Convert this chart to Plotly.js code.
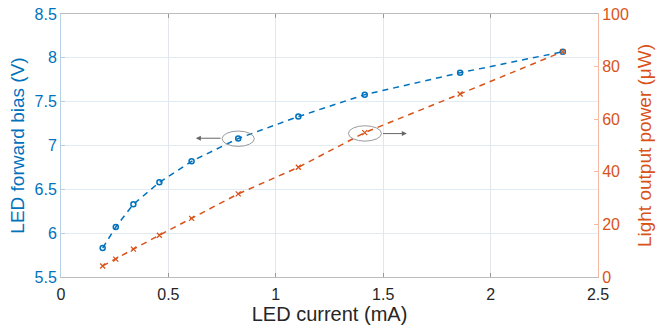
<!DOCTYPE html>
<html><head><meta charset="utf-8">
<script src="https://cdn.plot.ly/plotly-3.0.1.min.js"></script>
<style>html,body{margin:0;padding:0;background:#fff}#chart{width:660px;height:330px}</style>
</head><body><div id="chart"></div>
<script>
const current = [0.194, 0.255, 0.337, 0.458, 0.608, 0.825, 1.105, 1.414, 1.858, 2.336];
const forwardBias = [5.83, 6.07, 6.33, 6.58, 6.82, 7.08, 7.33, 7.58, 7.83, 8.07];
const outputPower = [4.2, 6.8, 10.6, 15.9, 22.3, 31.6, 41.7, 54.9, 69.6, 85.7];
const xTicks = [0, 0.5, 1, 1.5, 2, 2.5];
const xTickText = ['0', '0.5', '1', '1.5', '2', '2.5'];
const yTicks = [5.5, 6, 6.5, 7, 7.5, 8, 8.5];
const yTickText = ['5.5', '6', '6.5', '7', '7.5', '8', '8.5'];
const y2Ticks = [0, 20, 40, 60, 80, 100];

const BLUE = '#0072BD', ORANGE = '#D95319';
const FONT = 'Liberation Sans, Arial, sans-serif';

const traces = [
  {x: current, y: forwardBias, type: 'scatter', mode: 'lines+markers', yaxis: 'y',
   line: {color: BLUE, width: 1.5, dash: '6px,5px'},
   marker: {symbol: 'circle-open', size: 5, color: BLUE, line: {width: 1.5, color: BLUE}}},
  {x: current, y: outputPower, type: 'scatter', mode: 'lines+markers', yaxis: 'y2',
   line: {color: ORANGE, width: 1.5, dash: '6px,5px'},
   marker: {symbol: 'x-thin-open', size: 5, color: ORANGE, line: {width: 1.3, color: ORANGE}}}
];

const layout = {
  width: 660, height: 330,
  margin: {l: 61, r: 62, t: 14, b: 53},
  paper_bgcolor: '#fff', plot_bgcolor: '#fff',
  showlegend: false,
  font: {family: FONT},
  xaxis: {range: [0, 2.5], tickvals: xTicks, ticktext: xTickText,
    tickfont: {size: 16, color: '#262626'}, showgrid: true, gridcolor: '#e3e6ea',
    showline: true, linecolor: '#bdbdbd', linewidth: 1, mirror: 'ticks',
    ticks: 'inside', ticklen: 4, tickcolor: '#999', zeroline: false, ticklabelstandoff: 3,
    title: {text: 'LED current (mA)', font: {size: 20, color: '#262626'}, standoff: 4}},
  yaxis: {range: [5.5, 8.5], tickvals: yTicks, ticktext: yTickText,
    tickfont: {size: 16, color: BLUE}, showgrid: true, gridcolor: '#e1ebf4',
    showline: true, linecolor: '#b8d0e6', linewidth: 1,
    ticks: 'inside', ticklen: 4, tickcolor: '#b8d0e6', zeroline: false,
    title: {text: 'LED forward bias (V)', font: {size: 19, color: BLUE}, standoff: 4}},
  yaxis2: {range: [0, 100], tickvals: y2Ticks, overlaying: 'y', side: 'right',
    tickfont: {size: 16, color: ORANGE}, showgrid: false,
    showline: true, linecolor: '#f4b9a0', linewidth: 1,
    ticks: 'inside', ticklen: 4, tickcolor: '#f4b9a0', zeroline: false,
    title: {text: 'Light output power (μW)', font: {size: 19, color: ORANGE}, standoff: 9}},
  shapes: [
    {type: 'circle', xref: 'x', yref: 'y', x0: 0.750, x1: 0.900, y0: 6.99, y1: 7.165,
     line: {color: '#9a9a9a', width: 1}},
    {type: 'circle', xref: 'x', yref: 'y', x0: 1.338, x1: 1.492, y0: 7.05, y1: 7.225,
     line: {color: '#9a9a9a', width: 1}}
  ],
  annotations: [
    {x: 0.628, y: 7.083, ax: 0.750, ay: 7.083, xref: 'x', yref: 'y', axref: 'x', ayref: 'y',
     text: '', showarrow: true, arrowhead: 2, arrowsize: 1, arrowwidth: 1, arrowcolor: '#666'},
    {x: 1.61, y: 7.136, ax: 1.492, ay: 7.136, xref: 'x', yref: 'y', axref: 'x', ayref: 'y',
     text: '', showarrow: true, arrowhead: 2, arrowsize: 1, arrowwidth: 1, arrowcolor: '#666'}
  ]
};

Plotly.newPlot('chart', traces, layout, {displayModeBar: false, staticPlot: true});
</script></body></html>
